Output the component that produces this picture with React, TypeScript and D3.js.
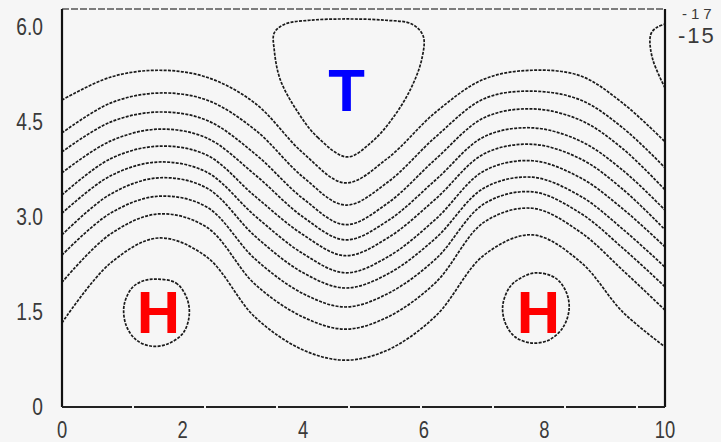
import React from "react";
import * as d3 from "d3";

// Sample positions along x shared by every wavy isoline
const xSamples = [0, 0.8, 1.6, 2.4, 3.2, 4.0, 4.7, 5.4, 6.2, 7.0, 7.8, 8.6, 9.3, 10];

// Wavy isolines, top to bottom (y values at each x sample)
const line1 = [4.85, 5.21, 5.32, 5.21, 4.8, 4.01, 3.54, 3.93, 4.66, 5.18, 5.32, 5.23, 4.8, 4.19];
const line2 = [4.33, 4.8, 4.96, 4.85, 4.38, 3.63, 3.19, 3.55, 4.27, 4.87, 4.99, 4.85, 4.41, 3.78];
const line3 = [4.03, 4.5, 4.66, 4.53, 4.0, 3.29, 2.88, 3.22, 3.92, 4.57, 4.71, 4.53, 4.08, 3.43];
const line4 = [3.7, 4.2, 4.39, 4.25, 3.67, 3.0, 2.64, 2.94, 3.59, 4.27, 4.41, 4.2, 3.74, 3.11];
const line5 = [3.35, 3.92, 4.12, 3.98, 3.33, 2.72, 2.39, 2.67, 3.29, 4.0, 4.15, 3.92, 3.44, 2.8];
const line6 = [3.06, 3.65, 3.87, 3.71, 3.02, 2.42, 2.12, 2.37, 2.97, 3.73, 3.89, 3.62, 3.13, 2.53];
const line7 = [2.72, 3.36, 3.62, 3.46, 2.7, 2.12, 1.88, 2.1, 2.67, 3.46, 3.63, 3.33, 2.81, 2.21];
const line8 = [2.4, 3.06, 3.33, 3.16, 2.34, 1.79, 1.58, 1.79, 2.34, 3.21, 3.4, 3.06, 2.51, 1.9];
const line9 = [1.97, 2.73, 3.05, 2.84, 1.94, 1.42, 1.23, 1.42, 1.97, 2.92, 3.14, 2.76, 2.16, 1.53];
const line10 = [1.33, 2.27, 2.67, 2.37, 1.42, 0.9, 0.74, 0.9, 1.44, 2.4, 2.72, 2.29, 1.5, 0.95];
const wavyLines = [line1, line2, line3, line4, line5, line6, line7, line8, line9, line10];

// Closed isolines: low centre (T) and the two high centres (H)
const loopT: [number, number][] = [
  [4.73, 3.95], [4.25, 4.25], [3.91, 4.66], [3.62, 5.17], [3.52, 5.64], [3.52, 5.91],
  [3.7, 6.05], [4.11, 6.11], [4.73, 6.13], [5.36, 6.11], [5.8, 6.05], [5.99, 5.86],
  [5.97, 5.51], [5.79, 5.04], [5.49, 4.57], [5.14, 4.19],
];
const loopHLeft: [number, number][] = [
  [1.56, 2.02], [1.89, 1.96], [2.07, 1.72], [2.11, 1.45], [2.01, 1.17], [1.76, 1.0],
  [1.49, 0.96], [1.23, 1.06], [1.06, 1.3], [1.03, 1.61], [1.16, 1.88], [1.34, 1.99],
];
const loopHRight: [number, number][] = [
  [7.86, 2.12], [8.18, 2.04], [8.36, 1.82], [8.41, 1.55], [8.31, 1.26], [8.08, 1.06],
  [7.79, 1.01], [7.51, 1.11], [7.35, 1.33], [7.31, 1.61], [7.43, 1.9], [7.63, 2.05],
];
// Partial isoline cut by the right border
const edgeArc: [number, number][] = [
  [10, 5.04], [9.8, 5.48], [9.75, 5.8], [9.78, 5.92], [9.87, 6.0], [10, 6.05],
];

const xTicks = [0, 2, 4, 6, 8, 10];
const yTicks = [0, 1.5, 3.0, 4.5, 6.0];
const yTickLabels = ["0", "1.5", "3.0", "4.5", "6.0"];

// Centre markers
const centres = [
  { label: "T", x: 4.72, y: 5.0, color: "#0000ff" },
  { label: "H", x: 1.6, y: 1.5, color: "#ff0000" },
  { label: "H", x: 7.9, y: 1.5, color: "#ff0000" },
];
const levelLabels = [
  { text: "-17", row: 0 },
  { text: "-15", row: 1 },
];

const W = 721;
const H = 442;
const left = 62;
const right = 665;
const bottom = 407;
const top = 9;

export default function App() {
  const x = d3.scaleLinear().domain([0, 10]).range([left, right]);
  const y = d3.scaleLinear().domain([0, 6]).range([bottom, 27.2]);

  const openLine = d3
    .line<[number, number]>()
    .x((d) => x(d[0]))
    .y((d) => y(d[1]))
    .curve(d3.curveCatmullRom.alpha(0.5));
  const closedLine = d3
    .line<[number, number]>()
    .x((d) => x(d[0]))
    .y((d) => y(d[1]))
    .curve(d3.curveCatmullRomClosed.alpha(0.5));

  const strokeProps = {
    fill: "none",
    stroke: "#1a1a1a",
    strokeWidth: 1.7,
    strokeDasharray: "3 1.3",
  };
  const font = "'Liberation Sans', Arial, sans-serif";

  return (
    <svg
      width={W}
      height={H}
      style={{ position: "absolute", left: 0, top: 0, background: "#f6f6f6" }}
    >
      <rect x={0} y={0} width={W} height={H} fill="#f6f6f6" />
      <defs>
        <clipPath id="plot">
          <rect x={left} y={top} width={right - left} height={bottom - top} />
        </clipPath>
      </defs>

      <g clipPath="url(#plot)">
        {wavyLines.map((vals, i) => (
          <path
            key={i}
            d={openLine(xSamples.map((xv, j) => [xv, vals[j]] as [number, number])) || ""}
            {...strokeProps}
          />
        ))}
        <path d={closedLine(loopT) || ""} {...strokeProps} />
        <path d={closedLine(loopHLeft) || ""} {...strokeProps} />
        <path d={closedLine(loopHRight) || ""} {...strokeProps} />
        <path d={openLine(edgeArc) || ""} {...strokeProps} />
      </g>

      {/* frame */}
      <line x1={left} x2={right} y1={top} y2={top} stroke="#555" strokeWidth={1.5} strokeDasharray="7 2" />
      <line x1={left} x2={left} y1={top} y2={bottom} stroke="#111" strokeWidth={2.2} />
      <line x1={right} x2={right} y1={top} y2={bottom} stroke="#111" strokeWidth={2.2} />
      <line x1={left} x2={right} y1={bottom} y2={bottom} stroke="#222" strokeWidth={2} strokeDasharray="70 2" />

      {/* y tick labels */}
      {yTicks.map((t, i) => (
        <text
          key={t}
          transform={`translate(43, ${y(t)}) scale(0.8, 1)`}
          textAnchor="end"
          dominantBaseline="central"
          fontFamily={font}
          fontSize={24}
          fill="#3a3a3a"
        >
          {yTickLabels[i]}
        </text>
      ))}

      {/* x tick labels */}
      {xTicks.map((t) => (
        <text
          key={t}
          transform={`translate(${x(t)}, 430) scale(0.8, 1)`}
          textAnchor="middle"
          dominantBaseline="central"
          fontFamily={font}
          fontSize={23}
          fill="#3a3a3a"
        >
          {t}
        </text>
      ))}

      {/* level labels beside the right border */}
      {levelLabels.map((l) => (
        <text
          key={l.text}
          x={l.row === 0 ? 682 : 678}
          y={l.row === 0 ? 19 : 43}
          fontFamily={font}
          fontSize={l.row === 0 ? 15 : 22}
          letterSpacing={l.row === 0 ? 4 : 2}
          fill="#3a3a3a"
        >
          {l.text}
        </text>
      ))}

      {/* centre markers */}
      {centres.map((c, i) => (
        <text
          key={i}
          x={x(c.x)}
          y={y(c.y)}
          textAnchor="middle"
          dominantBaseline="central"
          fontFamily={font}
          fontWeight="bold"
          fontSize={60}
          fill={c.color}
        >
          {c.label}
        </text>
      ))}
    </svg>
  );
}
